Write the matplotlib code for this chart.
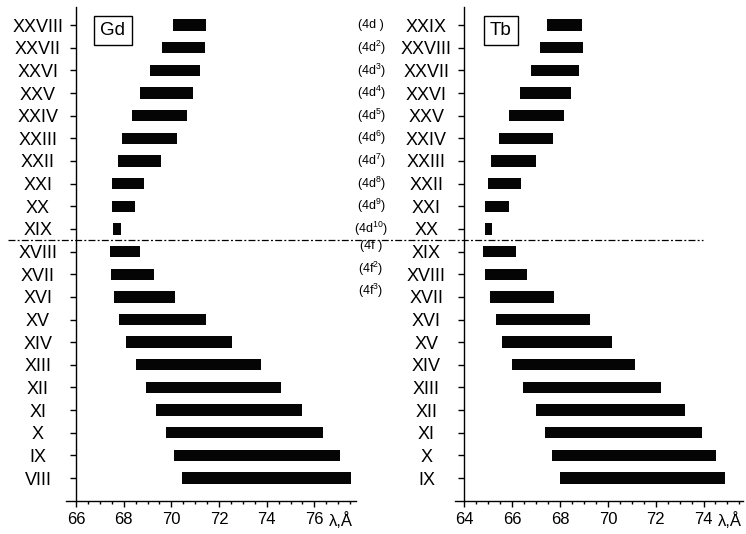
"""
Line ranges of Gd and Tb ions (4d / 4f shells), drawn as horizontal bars.
"""

import matplotlib
matplotlib.use("Agg")
import matplotlib.pyplot as plt
from matplotlib.ticker import MultipleLocator

plt.rcParams['font.family'] = ['Liberation Sans', 'DejaVu Sans']
plt.rcParams['mathtext.fontset'] = 'custom'
plt.rcParams['mathtext.rm'] = 'Liberation Sans'
plt.rcParams['mathtext.it'] = 'Liberation Sans'
plt.rcParams['mathtext.bf'] = 'Liberation Sans'
plt.rcParams['lines.scale_dashes'] = False

# Gd: ion stages VIII .. XXVIII, wavelength range in Angstrom
gd_ions = ["VIII", "IX", "X", "XI", "XII", "XIII", "XIV", "XV", "XVI", "XVII",
           "XVIII", "XIX", "XX", "XXI", "XXII", "XXIII", "XXIV", "XXV", "XXVI",
           "XXVII", "XXVIII"]
gd_start = [70.46, 70.10, 69.79, 69.35, 68.95, 68.50, 68.11, 67.80, 67.61, 67.45,
            67.41, 67.56, 67.51, 67.51, 67.76, 67.92, 68.36, 68.67, 69.12, 69.61, 70.05]
gd_end = [77.53, 77.07, 76.37, 75.49, 74.60, 73.74, 72.54, 71.45, 70.15, 69.26,
          68.70, 67.90, 68.46, 68.85, 69.55, 70.25, 70.65, 70.89, 71.20, 71.40, 71.45]

# Tb: ion stages IX .. XXIX
tb_ions = ["IX", "X", "XI", "XII", "XIII", "XIV", "XV", "XVI", "XVII", "XVIII",
           "XIX", "XX", "XXI", "XXII", "XXIII", "XXIV", "XXV", "XXVI", "XXVII",
           "XXVIII", "XXIX"]
tb_start = [68.01, 67.66, 67.36, 67.00, 66.46, 66.00, 65.56, 65.32, 65.07, 64.87,
            64.77, 64.87, 64.87, 64.97, 65.12, 65.43, 65.88, 66.32, 66.77, 67.17, 67.46]
tb_end = [74.91, 74.52, 73.92, 73.23, 72.23, 71.15, 70.18, 69.25, 67.76, 66.62,
          66.17, 65.16, 65.86, 66.36, 67.00, 67.70, 68.15, 68.46, 68.80, 68.95, 68.90]

# ground configurations, listed against the Tb rows (XXIX down to XVII)
configs = ["(4d )", "(4d$^{2}$)", "(4d$^{3}$)", "(4d$^{4}$)", "(4d$^{5}$)",
           "(4d$^{6}$)", "(4d$^{7}$)", "(4d$^{8}$)", "(4d$^{9}$)", "(4d$^{10}$)",
           "(4f )", "(4f$^{2}$)", "(4f$^{3}$)"]
config_ions = ["XXIX", "XXVIII", "XXVII", "XXVI", "XXV", "XXIV", "XXIII", "XXII",
               "XXI", "XX", "XIX", "XVIII", "XVII"]


def draw_panel(ax, ions, start, end, x0, xlim, major, name):
    rows = list(range(len(ions)))
    widths = [e - s for s, e in zip(start, end)]
    ax.barh(rows, widths, left=start, height=0.5, color='#050505')

    ax.set_xlim(*xlim)
    ax.set_ylim(-1, 20.8)
    ax.patch.set_visible(False)
    for side in ('top', 'right'):
        ax.spines[side].set_visible(False)
    ax.spines['left'].set_position(('data', x0))
    for sp in ax.spines.values():
        sp.set_linewidth(1.0)

    ax.set_xticks(major)
    ax.xaxis.set_minor_locator(MultipleLocator(0.5))
    ax.tick_params(axis='x', which='major', length=4.5, width=1, pad=3.5, labelsize=12)
    ax.tick_params(axis='x', which='minor', length=2.5, width=1)

    ax.set_yticks(rows)
    ax.set_yticklabels(ions)
    ax.tick_params(axis='y', length=4.3, width=1, pad=23, labelsize=13)
    for lab in ax.get_yticklabels():
        lab.set_horizontalalignment('center')

    ax.annotate("λ,Å", xy=(major[-1] + 0.6, 0), xycoords=('data', 'axes fraction'),
                xytext=(0, -8), textcoords='offset points',
                ha='left', va='top', fontsize=12)

    ax.text(0.16, 0.952, name, transform=ax.transAxes, ha='center', va='center',
            fontsize=13.5,
            bbox=dict(boxstyle='square,pad=0.33', facecolor='white',
                      edgecolor='black', linewidth=1.0))


fig = plt.figure(figsize=(7.46, 5.34), dpi=100)
ax1 = fig.add_axes([0.0891, 0.0624, 0.3883, 0.9245])
ax2 = fig.add_axes([0.6098, 0.0624, 0.3861, 0.9245])

draw_panel(ax1, gd_ions, gd_start, gd_end, 66, (65.6, 77.75),
           [66, 68, 70, 72, 74, 76], "Gd")
draw_panel(ax2, tb_ions, tb_start, tb_end, 64, (63.6, 75.65),
           [64, 66, 68, 70, 72, 74], "Tb")

# 4d / 4f boundary across both panels
ax1.axhline(10.5, xmin=-0.202, xmax=2.197, color='black', linewidth=0.9,
            dashes=(5, 1.6, 1.4, 1.6), clip_on=False)

for label, ion in zip(configs, config_ions):
    row = tb_ions.index(ion)
    y = row + 0.25 if 'f' in label else row
    ax2.text(-0.291, y, label, transform=ax2.get_yaxis_transform(),
             ha='center', va='center', fontsize=9)

fig.savefig("out.png", dpi=100)
